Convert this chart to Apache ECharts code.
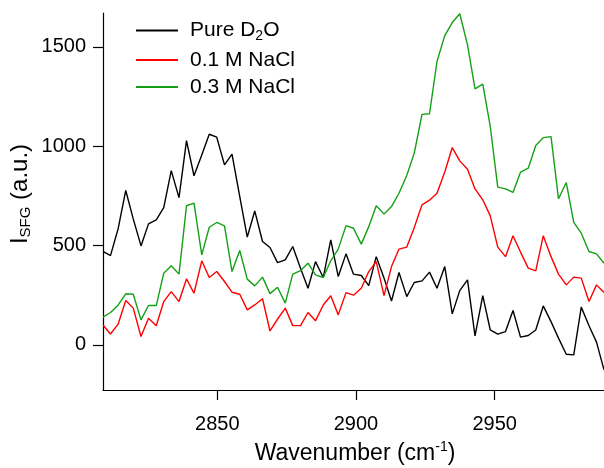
<!DOCTYPE html>
<html><head><meta charset="utf-8">
<script src="https://cdn.jsdelivr.net/npm/echarts@6/dist/echarts.min.js"></script>
<style>html,body{margin:0;padding:0;background:#fff}#c{width:604px;height:468px}</style>
</head><body><div id="c"></div>
<script>
// Wavenumber (cm^-1)
const wavenumber = [2808.8,2811.5,2814.3,2817.0,2819.7,2822.5,2825.2,2828.0,2830.7,2833.4,
  2836.2,2838.9,2841.6,2844.4,2847.1,2849.8,2852.6,2855.3,2858.1,2860.8,
  2863.5,2866.3,2869.0,2871.7,2874.5,2877.2,2880.0,2882.7,2885.4,2888.2,
  2890.9,2893.6,2896.4,2899.1,2901.9,2904.6,2907.3,2910.1,2912.8,2915.5,
  2918.3,2921.0,2923.8,2926.5,2929.2,2932.0,2934.7,2937.4,2940.2,2942.9,
  2945.7,2948.4,2951.1,2953.9,2956.6,2959.3,2962.1,2964.8,2967.5,2970.3,
  2973.0,2975.8,2978.5,2981.2,2984.0,2986.7,2989.4];
const pureD2O = [470,449,587,777,634,498,609,629,691,877,
  741,1028,851,956,1060,1045,906,960,746,542,
  674,520,490,414,428,495,386,285,419,339,
  528,344,458,356,349,298,444,336,221,364,
  243,314,322,366,285,394,156,273,327,45,
  248,75,54,67,173,39,47,75,196,117,
  34,-47,-50,190,96,14,-126];
const nacl01 = [100,55,106,223,185,42,134,96,218,268,
  218,332,260,423,339,369,319,265,255,176,
  201,232,70,129,185,97,97,163,121,201,
  247,151,263,250,285,369,419,248,394,482,
  492,590,705,728,763,870,993,926,884,785,
  730,649,492,444,549,467,386,372,549,444,
  356,302,341,336,218,302,263];
const nacl03 = [140,163,201,257,255,126,198,198,361,398,
  356,700,713,453,592,616,599,369,475,331,
  297,341,258,290,210,356,374,411,352,339,
  423,482,600,587,507,595,700,658,696,763,
  852,965,1160,1163,1426,1556,1622,1666,1510,1288,
  1312,1099,794,785,767,869,889,1003,1043,1048,
  735,817,616,562,470,458,411];
const xTicks = [2850, 2900, 2950];
const yTicks = [0, 500, 1000, 1500];
const seriesNames = ['Pure D2O', '0.1 M NaCl', '0.3 M NaCl'];

const F = '"Liberation Sans", Arial, sans-serif';
const pair = (ys) => wavenumber.map((x, i) => [x, ys[i]]);
const chart = echarts.init(document.getElementById('c'));
chart.setOption({
  animation: false,
  backgroundColor: '#fff',
  grid: { left: 103, top: 13, right: 0, bottom: 78, containLabel: false },
  xAxis: {
    type: 'value', min: 2808.8, max: 2989.4,
    axisLine: { show: true, onZero: false, lineStyle: { color: '#000', width: 1.2 } },
    axisTick: { show: true, customValues: xTicks, length: 10, lineStyle: { color: '#000', width: 1.2 } },
    axisLabel: { customValues: xTicks, formatter: (v) => String(v), color: '#000', fontSize: 20, fontFamily: F, margin: 24 },
    splitLine: { show: false }
  },
  yAxis: {
    type: 'value', min: -227, max: 1670,
    axisLine: { show: true, onZero: false, lineStyle: { color: '#000', width: 1.2 } },
    axisTick: { show: true, customValues: yTicks, length: 10, lineStyle: { color: '#000', width: 1.2 } },
    axisLabel: { customValues: yTicks, formatter: (v) => String(v), color: '#000', fontSize: 20, fontFamily: F, margin: 17 },
    splitLine: { show: false }
  },
  legend: {
    left: 131, top: 15, orient: 'vertical', itemWidth: 42, itemHeight: 14, itemGap: 6,
    data: seriesNames.map(n => ({ name: n, icon: 'path://M0,6 L42,6 L42,8 L0,8 Z' })),
    formatter: (n) => n === 'Pure D2O' ? 'Pure D{sub|2}O' : n,
    textStyle: { color: '#000', fontSize: 21, fontFamily: F, padding: [0, 0, 0, 7],
      rich: { sub: { fontSize: 14, fontFamily: F, verticalAlign: 'bottom', padding: [12, 0, 0, 0] } } }
  },
  graphic: [
    { type: 'text', x: 355, y: 454, style: {
        text: 'Wavenumber (cm{sup|-1})', align: 'center', verticalAlign: 'middle',
        font: '23px ' + F, fill: '#000',
        rich: { sup: { fontSize: 14, fontFamily: F, padding: [0, 0, 14, 0] } } } },
    { type: 'text', x: 20, y: 194, rotation: Math.PI / 2, style: {
        text: 'I{sub|SFG} (a.u.)', align: 'center', verticalAlign: 'middle',
        font: '24px ' + F, fill: '#000',
        rich: { sub: { fontSize: 15, fontFamily: F, padding: [12, 0, 0, 0] } } } }
  ],
  series: [
    { name: seriesNames[0], type: 'line', data: pair(pureD2O), symbol: 'none', lineStyle: { color: '#000', width: 1.4 }, itemStyle: { color: '#000' } },
    { name: seriesNames[1], type: 'line', data: pair(nacl01), symbol: 'none', lineStyle: { color: '#ff0000', width: 1.4 }, itemStyle: { color: '#ff0000' } },
    { name: seriesNames[2], type: 'line', data: pair(nacl03), symbol: 'none', lineStyle: { color: '#14a014', width: 1.4 }, itemStyle: { color: '#14a014' } }
  ]
});
</script></body></html>
